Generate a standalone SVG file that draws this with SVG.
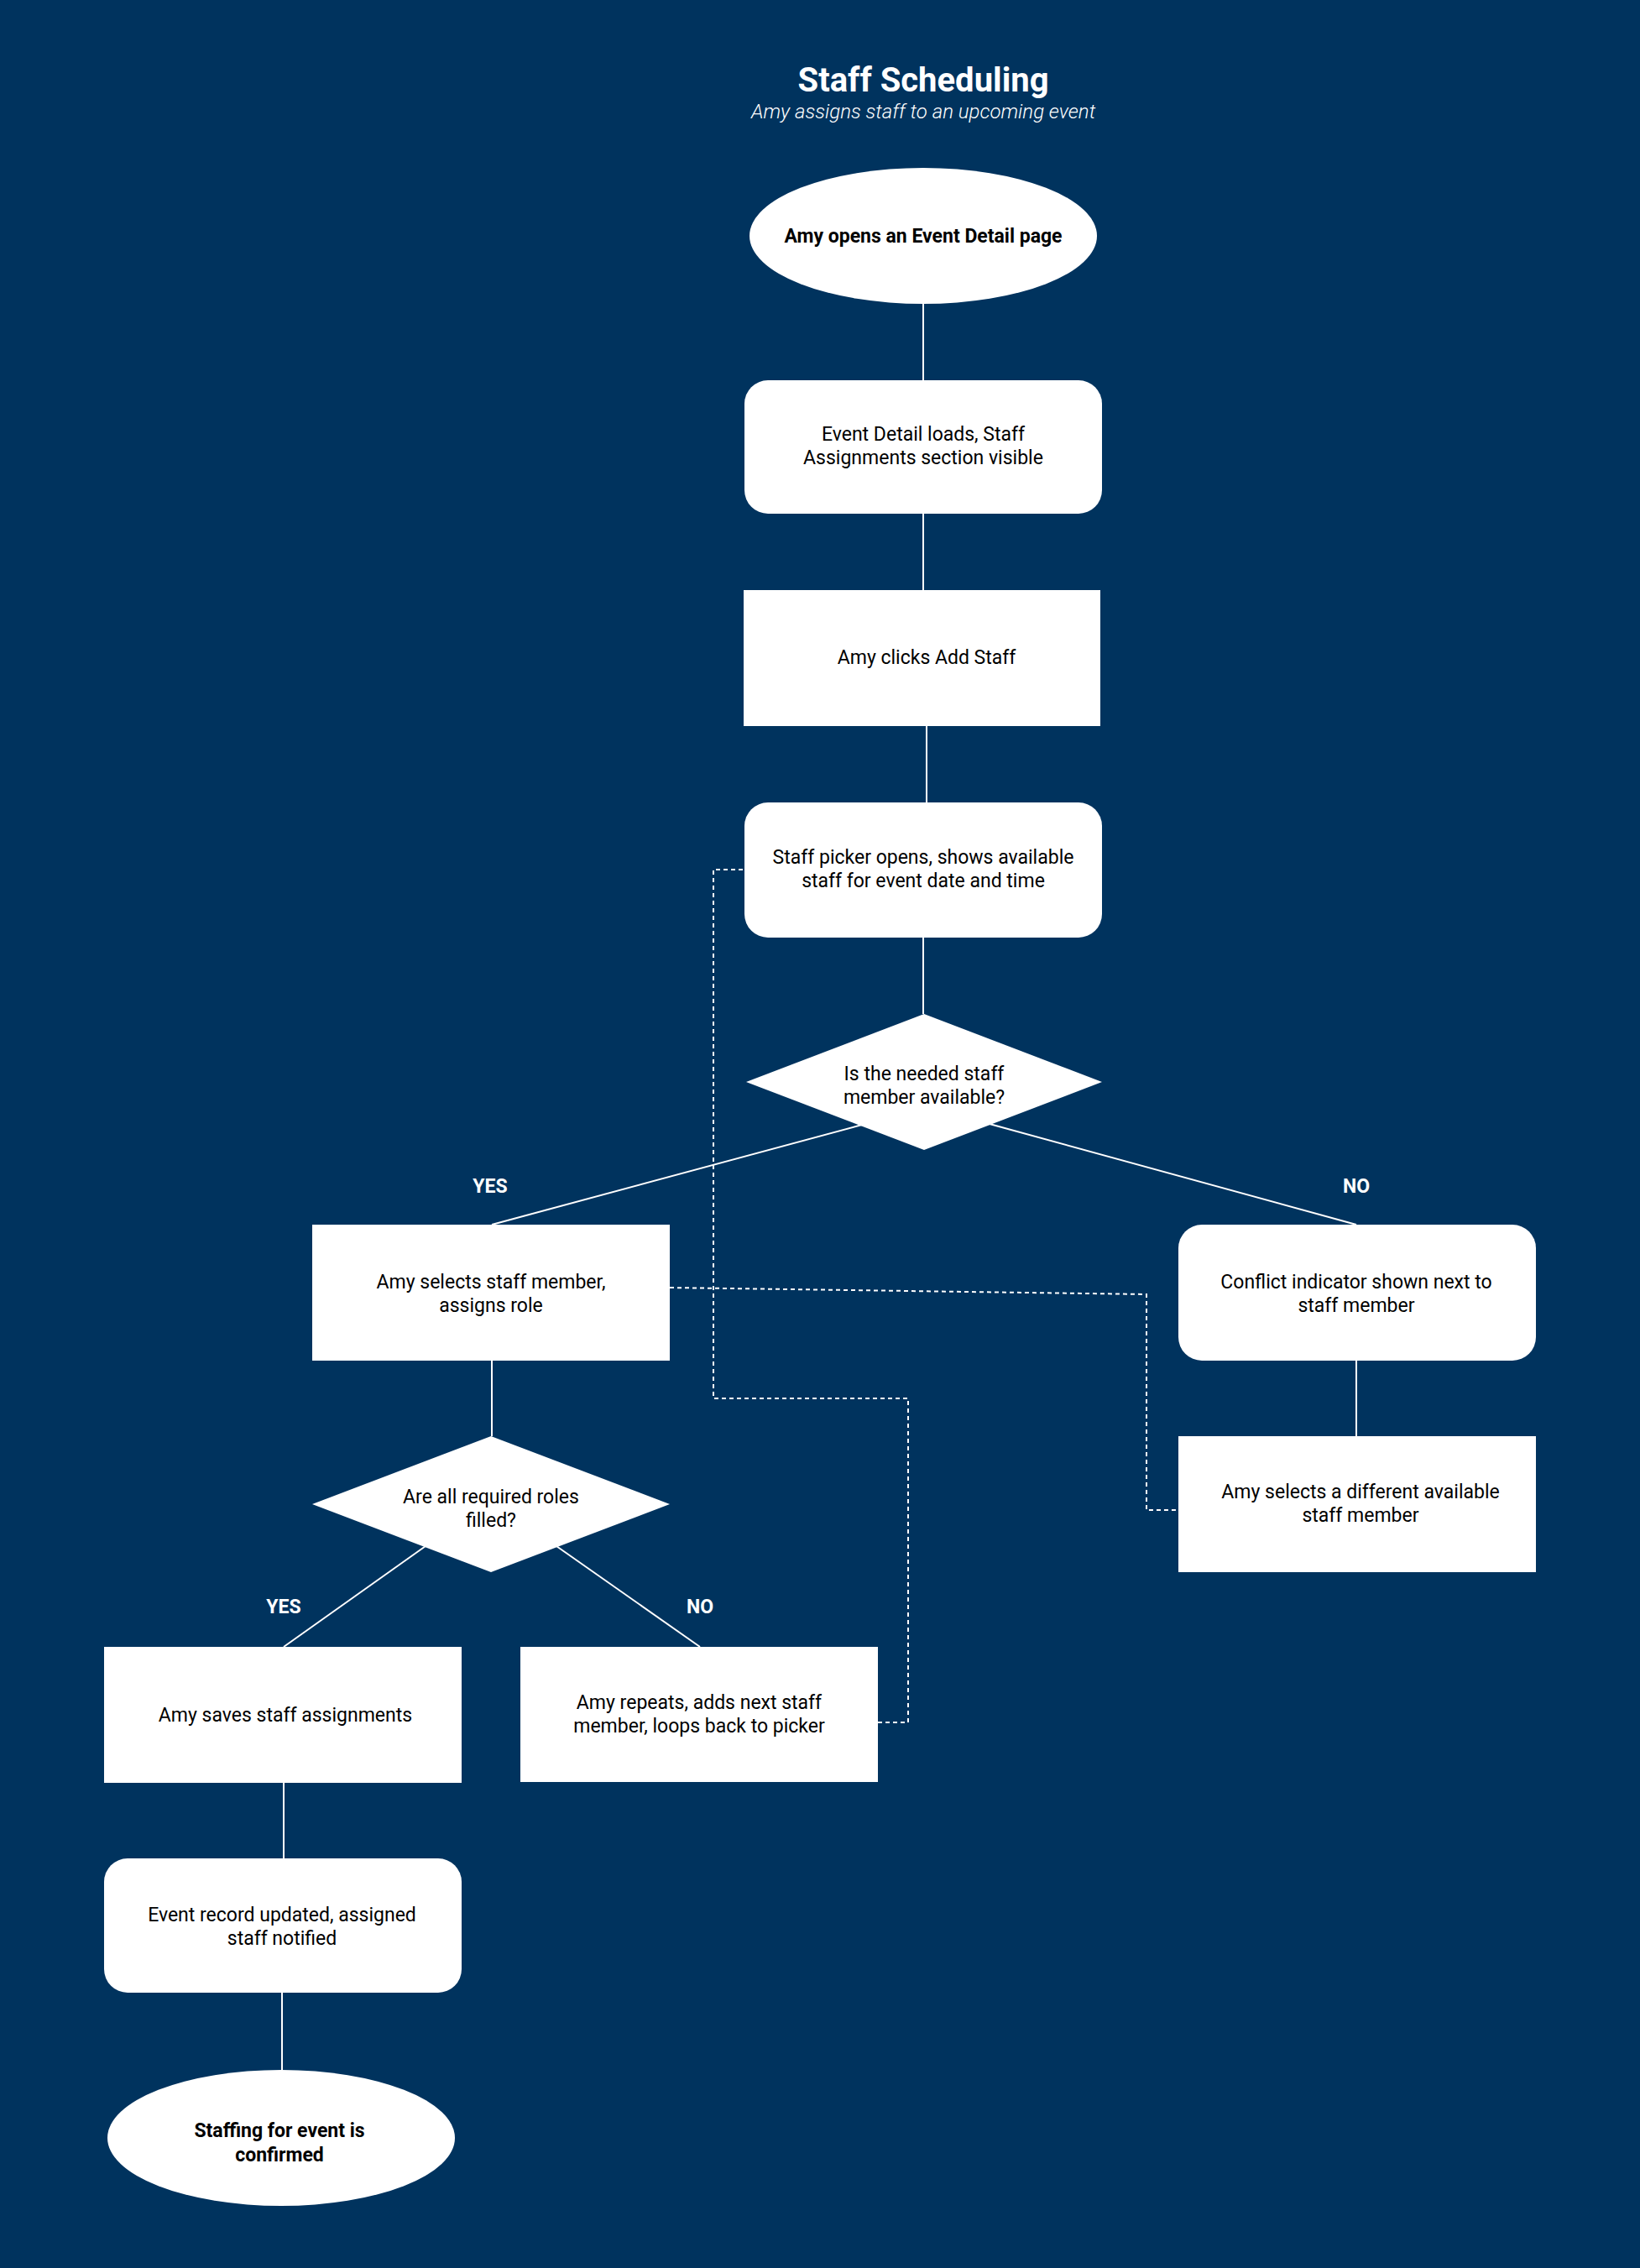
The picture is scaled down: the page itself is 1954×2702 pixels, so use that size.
<svg xmlns="http://www.w3.org/2000/svg" width="1954" height="2702" viewBox="0 0 1954 2702">
<style>
.n{fill:#fff}
.t{font-family:Roboto,"Liberation Sans",sans-serif;font-size:23px;fill:#000;text-anchor:middle}
.b{font-weight:bold}
.c{stroke:#fff;stroke-width:2;fill:none}
.d{stroke:#fff;stroke-width:2;fill:none;stroke-dasharray:5 4}
.l{font-family:Roboto,"Liberation Sans",sans-serif;font-size:23px;font-weight:bold;fill:#fff;text-anchor:middle}
</style>
<rect width="1954" height="2702" fill="#00335e"/>
<text x="1100" y="109" text-anchor="middle" font-family="Roboto,'Liberation Sans',sans-serif" font-size="40" font-weight="bold" fill="#fff">Staff Scheduling</text>
<text x="1100" y="141" text-anchor="middle" font-family="Roboto,'Liberation Sans',sans-serif" font-size="24" font-style="italic" font-weight="300" fill="#fff">Amy assigns staff to an upcoming event</text>
<g id="connectors">
<line class="c" x1="1100" y1="361" x2="1100" y2="453"/>
<line class="c" x1="1100" y1="612" x2="1100" y2="703"/>
<line class="c" x1="1104" y1="865" x2="1104" y2="956"/>
<line class="c" x1="1100" y1="1117" x2="1100" y2="1208"/>
<line class="c" x1="1027" y1="1340" x2="586" y2="1459"/>
<line class="c" x1="1179" y1="1339" x2="1616" y2="1459"/>
<line class="c" x1="1616" y1="1621" x2="1616" y2="1711"/>
<line class="c" x1="586" y1="1621" x2="586" y2="1711"/>
<line class="c" x1="507" y1="1842" x2="338" y2="1962"/>
<line class="c" x1="663" y1="1842" x2="834" y2="1962"/>
<line class="c" x1="338" y1="2124" x2="338" y2="2214"/>
<line class="c" x1="336" y1="2374" x2="336" y2="2466"/>
<polyline class="d" points="1046,2052 1082,2052 1082,1666 850,1666 850,1036 887,1036"/>
<polyline class="d" points="798,1534 1366,1542 1366,1799 1404,1799"/>
<text class="l" x="584" y="1421">YES</text>
<text class="l" x="1616" y="1421">NO</text>
<text class="l" x="338" y="1922">YES</text>
<text class="l" x="834" y="1922">NO</text>
</g>
<g id="start"><ellipse class="n" cx="1100" cy="281" rx="207" ry="81"/><text class="t b" x="1100" y="289">Amy opens an Event Detail page</text></g>
<g id="loads"><rect class="n" x="887" y="453" width="426" height="159" rx="28"/><text class="t" x="1100" y="525">Event Detail loads, Staff</text><text class="t" x="1100" y="553">Assignments section visible</text></g>
<g id="add"><rect class="n" x="886" y="703" width="425" height="162"/><text class="t" x="1104" y="791">Amy clicks Add Staff</text></g>
<g id="picker"><rect class="n" x="887" y="956" width="426" height="161" rx="28"/><text class="t" x="1100" y="1029">Staff picker opens, shows available</text><text class="t" x="1100" y="1057">staff for event date and time</text></g>
<g id="avail"><polygon class="n" points="1101,1208 1313,1289 1101,1370 889,1289"/><text class="t" x="1101" y="1287">Is the needed staff</text><text class="t" x="1101" y="1315">member available?</text></g>
<g id="select"><rect class="n" x="372" y="1459" width="426" height="162"/><text class="t" x="585" y="1535">Amy selects staff member,</text><text class="t" x="585" y="1563">assigns role</text></g>
<g id="conflict"><rect class="n" x="1404" y="1459" width="426" height="162" rx="28"/><text class="t" x="1616" y="1535">Conflict indicator shown next to</text><text class="t" x="1616" y="1563">staff member</text></g>
<g id="different"><rect class="n" x="1404" y="1711" width="426" height="162"/><text class="t" x="1621" y="1785">Amy selects a different available</text><text class="t" x="1621" y="1813">staff member</text></g>
<g id="roles"><polygon class="n" points="585,1711 798,1792 585,1873 372,1792"/><text class="t" x="585" y="1791">Are all required roles</text><text class="t" x="585" y="1819">filled?</text></g>
<g id="save"><rect class="n" x="124" y="1962" width="426" height="162"/><text class="t" x="340" y="2051">Amy saves staff assignments</text></g>
<g id="repeat"><rect class="n" x="620" y="1962" width="426" height="161"/><text class="t" x="833" y="2036">Amy repeats, adds next staff</text><text class="t" x="833" y="2064">member, loops back to picker</text></g>
<g id="updated"><rect class="n" x="124" y="2214" width="426" height="160" rx="28"/><text class="t" x="336" y="2289">Event record updated, assigned</text><text class="t" x="336" y="2317">staff notified</text></g>
<g id="end"><ellipse class="n" cx="335" cy="2547" rx="207" ry="81"/><text class="t b" x="333" y="2546">Staffing for event is</text><text class="t b" x="333" y="2575">confirmed</text></g>
</svg>
